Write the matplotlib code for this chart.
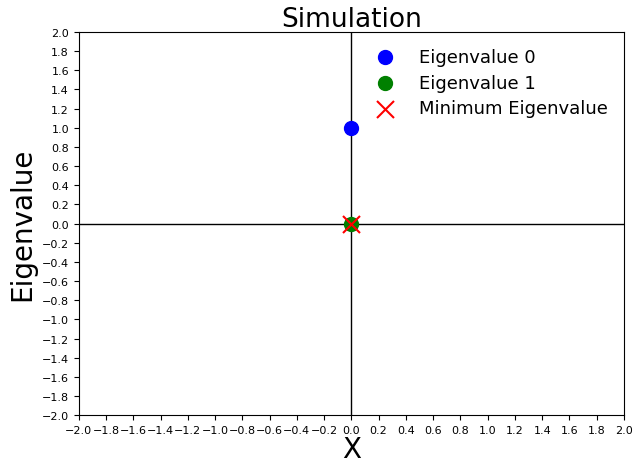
import numpy as np
import matplotlib
matplotlib.use('Agg')
import matplotlib.pyplot as plt

# Eigenvalues at x = 0
eig0_x = [0.0]
eig0_y = [1.0]
eig1_x = [0.0]
eig1_y = [0.0]
min_x = [0.0]
min_y = [0.0]

ticks = np.round(np.arange(-2.0, 2.01, 0.2), 1)

fig = plt.figure(figsize=(6.4, 4.64), dpi=100)
ax = fig.add_axes([0.123, 0.103, 0.852, 0.826])

ax.axhline(0, color='black', linewidth=1)
ax.axvline(0, color='black', linewidth=1)

ax.scatter(eig0_x, eig0_y, s=100, color='blue', label='Eigenvalue 0', zorder=3)
ax.scatter(eig1_x, eig1_y, s=100, color='green', label='Eigenvalue 1', zorder=3)
ax.scatter(min_x, min_y, s=150, color='red', marker='x', label='Minimum Eigenvalue', zorder=4)

ax.set_xlim(-2, 2)
ax.set_ylim(-2, 2)
ax.set_xticks(ticks)
ax.set_yticks(ticks)
ax.tick_params(labelsize=8)

ax.set_title('Simulation', fontsize=19, pad=4)
ax.set_xlabel('X', fontsize=20, labelpad=0)
ax.set_ylabel('Eigenvalue', fontsize=20)
ax.legend(loc='upper right', frameon=False, fontsize=13, labelspacing=0.42,
          handletextpad=0.9, borderaxespad=0.6, borderpad=0.3)

plt.savefig('out.png', dpi=100)
